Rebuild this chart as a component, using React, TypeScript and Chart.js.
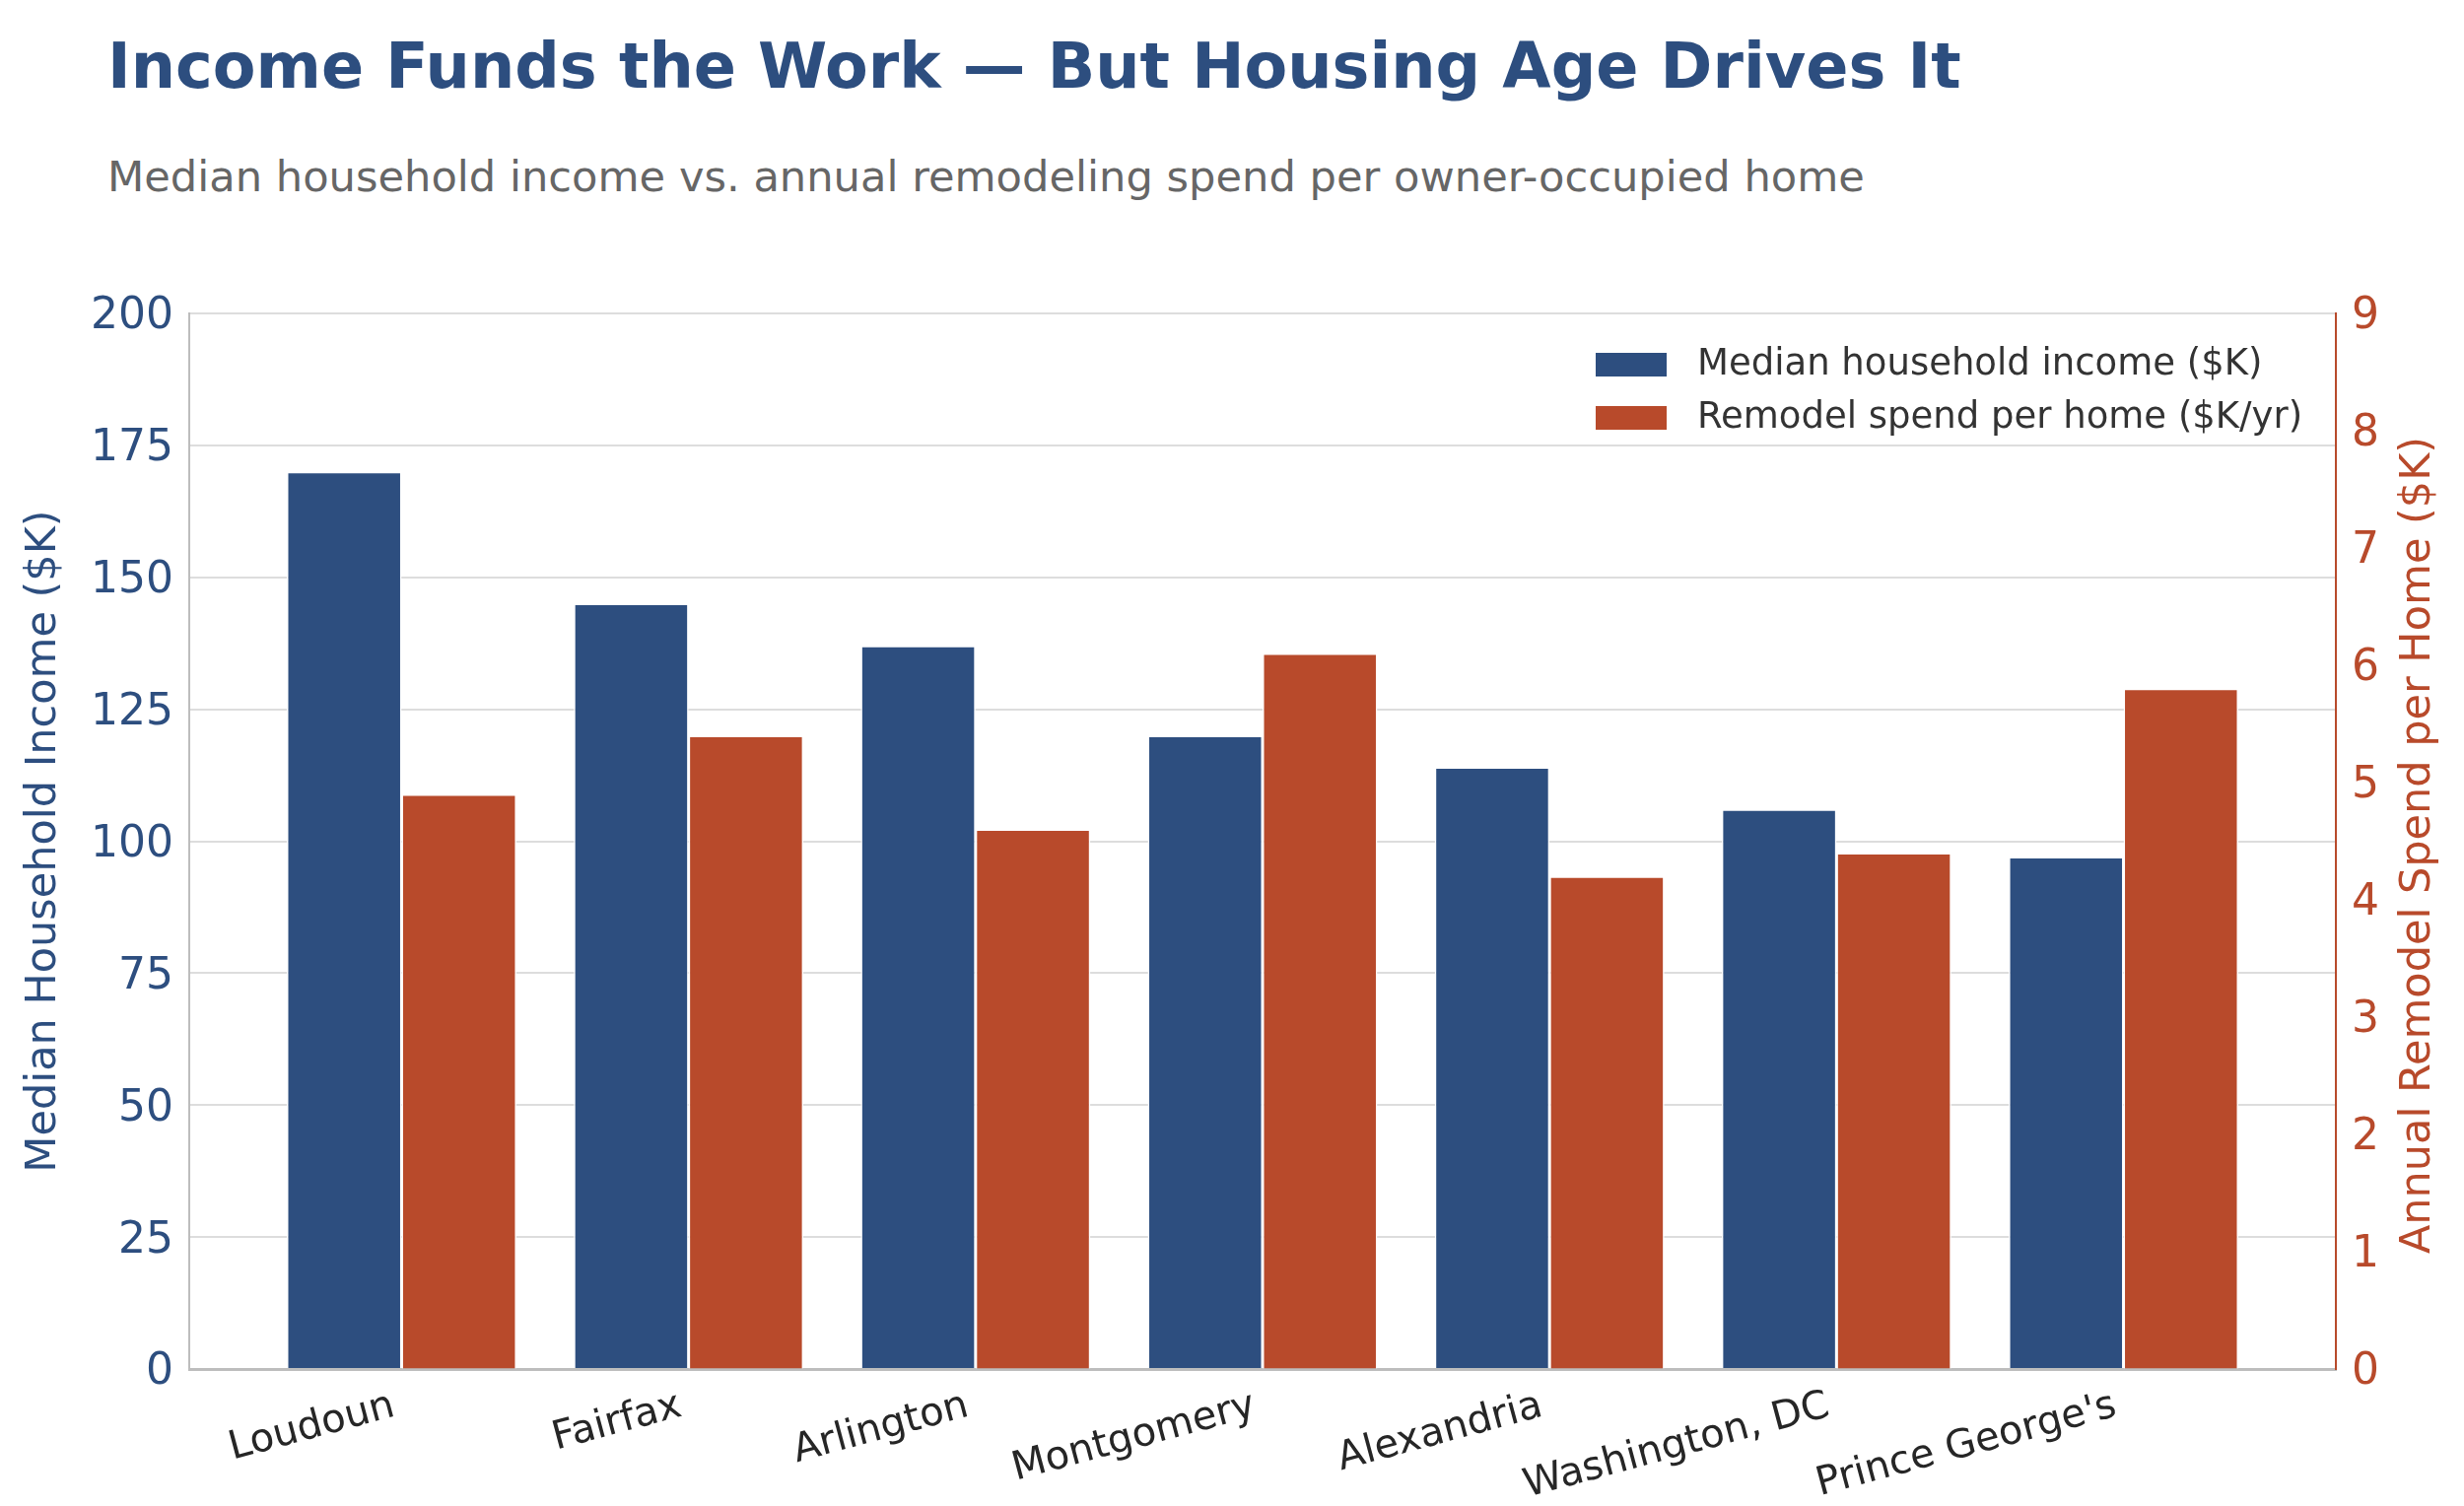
import React, { useEffect, useRef } from 'react';
import { Chart, registerables } from 'chart.js';
import type { ChartConfiguration, Plugin } from 'chart.js';

Chart.register(...registerables);

const counties = ['Loudoun', 'Fairfax', 'Arlington', 'Montgomery', 'Alexandria', 'Washington, DC', "Prince George's"];
const medianIncome = [170, 145, 137, 120, 114, 106, 97];
const remodelSpend = [4.9, 5.4, 4.6, 6.1, 4.2, 4.4, 5.8];

const incomeAxisMax = 200;
const incomeAxisStep = 25;
const spendAxisMax = 9;
const spendAxisStep = 1;

const incomeLabel = 'Median household income ($K)';
const spendLabel = 'Remodel spend per home ($K/yr)';
const incomeAxisTitle = 'Median Household Income ($K)';
const spendAxisTitle = 'Annual Remodel Spend per Home ($K)';

const BLUE = '#2d4e7f';
const ORANGE = '#b84a2b';
const FONT = "'DejaVu Sans', 'Noto Sans', sans-serif";

// legend inside the plot + right axis title reading bottom-to-top
const overlayPlugin: Plugin<'bar'> = {
  id: 'overlay',
  afterDraw(chart) {
    const { ctx, chartArea, scales } = chart;
    ctx.save();
    const patchX = chartArea.right - 751;
    const textX = chartArea.right - 648;
    const rows = [chartArea.top + 52, chartArea.top + 106];
    ctx.font = `37px ${FONT}`;
    ctx.textBaseline = 'middle';
    ctx.textAlign = 'left';
    chart.data.datasets.forEach((ds, i) => {
      ctx.fillStyle = ds.backgroundColor as string;
      ctx.fillRect(patchX, rows[i] - 12, 72, 24);
      ctx.fillStyle = '#333333';
      ctx.fillText(ds.label as string, textX, rows[i]);
    });

    const right = scales.y1;
    ctx.translate(right.right - 46, (right.top + right.bottom) / 2 + 4);
    ctx.rotate(-Math.PI / 2);
    ctx.font = `43px ${FONT}`;
    ctx.fillStyle = ORANGE;
    ctx.textAlign = 'center';
    ctx.fillText(spendAxisTitle, 0, 0);
    ctx.restore();
  }
};

const App: React.FC = () => {
  const canvasRef = useRef<HTMLCanvasElement>(null);
  const chartRef = useRef<Chart | null>(null);

  useEffect(() => {
    if (!canvasRef.current) return;
    if (chartRef.current) chartRef.current.destroy();

    const config: ChartConfiguration<'bar'> = {
      type: 'bar',
      data: {
        datasets: [
          {
            label: incomeLabel,
            data: counties.map((_, i) => ({ x: i, y: medianIncome[i] })) as any,
            backgroundColor: BLUE,
            borderColor: '#ffffff',
            borderWidth: 1.5,
            yAxisID: 'y'
          },
          {
            label: spendLabel,
            data: counties.map((_, i) => ({ x: i, y: remodelSpend[i] })) as any,
            backgroundColor: ORANGE,
            borderColor: '#ffffff',
            borderWidth: 1.5,
            yAxisID: 'y1'
          }
        ]
      },
      options: {
        responsive: true,
        maintainAspectRatio: false,
        animation: false,
        layout: { padding: { top: 318, left: 0, right: 0, bottom: 0 } },
        datasets: {
          bar: { categoryPercentage: 0.8, barPercentage: 1.0 }
        },
        plugins: {
          legend: { display: false },
          tooltip: { enabled: false },
          title: { display: false }
        },
        scales: {
          x: {
            type: 'linear',
            offset: false,
            min: -0.74,
            max: 6.74,
            grid: { offset: false, drawOnChartArea: false, drawTicks: false },
            border: { display: true, color: '#bdbdbd', width: 3 },
            afterBuildTicks: (scale: any) => {
              scale.ticks = counties.map((_, i) => ({ value: i }));
            },
            afterFit: (scale: any) => {
              scale.height = 139;
            },
            ticks: {
              autoSkip: false,
              minRotation: 15,
              maxRotation: 15,
              padding: 14,
              labelOffset: -8,
              color: '#262626',
              font: { family: FONT, size: 40 },
              callback: (value: any) => counties[Math.round(Number(value))] ?? ''
            }
          },
          y: {
            position: 'left',
            min: 0,
            max: incomeAxisMax,
            grid: { color: '#dddddd', lineWidth: 2, drawTicks: false },
            border: { display: true, color: '#bdbdbd', width: 2 },
            afterFit: (scale: any) => {
              scale.width = 192;
            },
            ticks: {
              stepSize: incomeAxisStep,
              padding: 16,
              labelOffset: 4,
              color: BLUE,
              font: { family: FONT, size: 44 }
            },
            title: {
              display: true,
              text: incomeAxisTitle,
              color: BLUE,
              font: { family: FONT, size: 43 },
              padding: { top: 19, bottom: 0 }
            }
          },
          y1: {
            position: 'right',
            min: 0,
            max: spendAxisMax,
            grid: { drawOnChartArea: false, drawTicks: false },
            border: { display: true, color: ORANGE, width: 2 },
            afterFit: (scale: any) => {
              scale.width = 130;
            },
            ticks: {
              stepSize: spendAxisStep,
              padding: 16,
              labelOffset: 4,
              color: ORANGE,
              font: { family: FONT, size: 44 }
            }
          }
        }
      },
      plugins: [overlayPlugin]
    };

    chartRef.current = new Chart(canvasRef.current, config);

    return () => {
      if (chartRef.current) {
        chartRef.current.destroy();
        chartRef.current = null;
      }
    };
  }, []);

  return (
    <div style={{ position: 'absolute', left: 0, top: 0, width: 2500, height: 1528, background: '#ffffff', fontFamily: FONT }}>
      <div style={{ position: 'absolute', left: 109, top: 35, fontSize: 63.7, lineHeight: '64px', fontWeight: 'bold', color: BLUE, whiteSpace: 'nowrap' }}>
        Income Funds the Work — But Housing Age Drives It
      </div>
      <div style={{ position: 'absolute', left: 109, top: 158, fontSize: 43.2, lineHeight: '43px', color: '#666666', whiteSpace: 'nowrap' }}>
        Median household income vs. annual remodeling spend per owner-occupied home
      </div>
      <div style={{ position: 'absolute', left: 0, top: 0, width: 2500, height: 1528 }}>
        <canvas ref={canvasRef}></canvas>
      </div>
    </div>
  );
};

export default App;
